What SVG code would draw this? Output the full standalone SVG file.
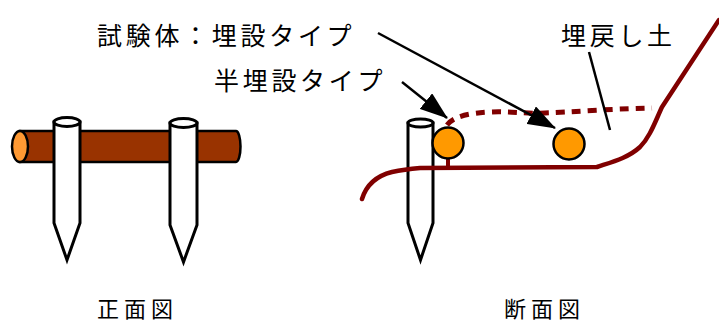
<svg xmlns="http://www.w3.org/2000/svg" width="719" height="322" viewBox="0 0 719 322">
  <style>
    .lbl { font-family: "Noto Sans CJK JP", "Noto Sans", sans-serif; fill: #000; }
    .big { font-size: 25px; letter-spacing: 3.7px; }
    .cap { font-size: 22px; letter-spacing: 5px; }
    .stake { fill: #fff; stroke: #000; stroke-width: 3; stroke-linejoin: miter; }
    .soil { fill: none; stroke: #800000; stroke-width: 4.5; stroke-linecap: round; stroke-linejoin: round; }
    .backfill { fill: none; stroke: #800000; stroke-width: 5; stroke-dasharray: 9 7; }
    .ptr { stroke: #000; stroke-width: 2.5; fill: none; }
    .specimen { fill: #FF9900; stroke: #000; stroke-width: 2.5; }
  </style>
  <defs>
    <marker id="head" markerUnits="userSpaceOnUse" markerWidth="28" markerHeight="20" refX="27" refY="10" orient="auto">
      <path d="M0,0 L28,10 L0,20 z" fill="#000"/>
    </marker>
  </defs>

  <rect width="719" height="322" fill="#fff"/>

  <!-- front view: pipe with two stakes -->
  <g id="front-pipe">
    <path d="M20,131 L236,131 A4.5,15.5 0 0 1 236,162 L20,162 z" fill="#993300" stroke="#000" stroke-width="2.5"/>
    <ellipse cx="20" cy="146.5" rx="8" ry="15.5" fill="#FF9933" stroke="#000" stroke-width="2.5"/>
  </g>
  <g id="front-stake-1">
    <path class="stake" d="M54,122 L54,223 L67,260 L80,223 L80,122 z"/>
    <ellipse class="stake" cx="67" cy="122" rx="13" ry="4.5"/>
  </g>
  <g id="front-stake-2">
    <path class="stake" d="M170,123 L170,225 L183.5,262 L197,225 L197,123 z"/>
    <ellipse class="stake" cx="183.5" cy="123" rx="13.5" ry="4.5"/>
  </g>

  <!-- section view -->
  <g id="section-stake">
    <path class="stake" d="M408,123 L408,223 L420.5,260 L433,223 L433,123 z"/>
    <ellipse class="stake" cx="420.5" cy="123" rx="12.5" ry="4"/>
  </g>

  <g id="connectors">
    <!-- ground surface -->
    <path class="soil" d="M362,199 C366,186 376,176 392,172 C402,170 410,169 420,168 L597,167 C612,162 628,158 640,147 C650,137 655,122 662,107 L719,20"/>
    <!-- backfill surface -->
    <path class="backfill" d="M447,125 C454,116 470,113 490,112 C510,111 525,114 545,113 C575,112 605,109 652,108"/>
    <!-- support stem under the half-buried specimen -->
    <line x1="448" y1="158" x2="448" y2="167" stroke="#800000" stroke-width="4"/>
    <!-- pointers -->
    <line class="ptr" x1="378" y1="33" x2="555" y2="128" marker-end="url(#head)"/>
    <line class="ptr" x1="402" y1="82" x2="447" y2="118" marker-end="url(#head)"/>
    <line class="ptr" x1="589" y1="52" x2="610" y2="130"/>
  </g>

  <g id="specimen-half">
    <circle class="specimen" cx="448" cy="143" r="15.5"/>
  </g>
  <g id="specimen-buried">
    <circle class="specimen" cx="569" cy="144" r="15.5"/>
  </g>

  <!-- labels -->
  <g id="label-specimen"><text class="lbl big" x="97" y="45">試験体：埋設タイプ</text></g>
  <g id="label-half"><text class="lbl big" x="214" y="90">半埋設タイプ</text></g>
  <g id="label-backfill"><text class="lbl big" x="561" y="45">埋戻し土</text></g>
  <g id="label-front"><text class="lbl cap" x="97" y="317">正面図</text></g>
  <g id="label-section"><text class="lbl cap" x="504" y="317">断面図</text></g>
</svg>
